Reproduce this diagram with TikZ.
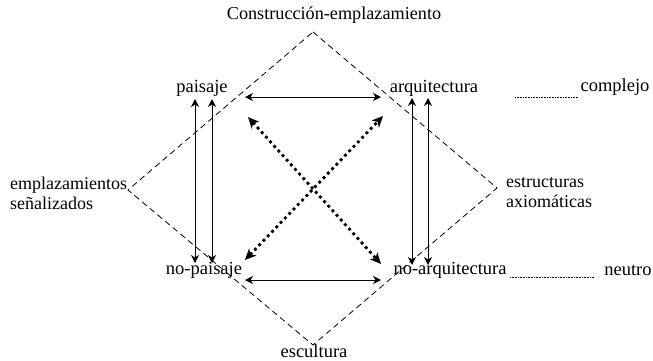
\documentclass[tikz,border=0pt]{standalone}
\usepackage{fontspec}
\setmainfont{Liberation Serif}
\usetikzlibrary{arrows.meta,positioning}

\begin{document}
\begin{tikzpicture}[
    x=1pt, y=-1pt,
    term/.style={inner sep=1pt, font=\fontsize{18.5}{21}\selectfont},
    title/.style={inner sep=1pt, font=\fontsize{18.2}{21}\selectfont},
    side/.style={inner sep=1pt, align=left, font=\fontsize{18}{20}\selectfont},
    frame/.style={line width=0.8pt, dash pattern=on 6pt off 4pt},
    arrow/.style={line width=0.9pt, <->, >={Stealth[length=8pt, width=8pt, inset=2.5pt]}},
    dotarrow/.style={line width=2.8pt, dash pattern=on 2.8pt off 3.4pt, <->, >={Stealth[length=11pt, width=10pt, inset=3pt]}},
    leader/.style={densely dotted, line width=0.6pt}
]
\useasboundingbox (0,0) rectangle (653,360);

% Diamond corners
\coordinate (top) at (313,32);
\coordinate (left) at (128,190);
\coordinate (right) at (497,188);
\coordinate (bottom) at (313,345);
\draw[frame] (top) -- (right) -- (bottom) -- (left) -- cycle;

% Corner labels
\node[title] (constr) at (334,15) {Construcción-emplazamiento};
\node[term, anchor=base, inner sep=0pt] (escult) at (314,357) {escultura};
\node[side, anchor=west] (senal) at (9,193) {emplazamientos\\señalizados};
\node[side, anchor=west] (axiom) at (505,193) {estructuras\\axiomáticas};

% Terms
\node[term] (paisaje) at (202,88) {paisaje};
\node[term] (arquit) at (434,88) {arquitectura};
\node[term] (nopaisaje) at (204,270) {no-paisaje};
\node[term] (noarquit) at (450,270) {no-arquitectura};
\node[term] (complejo) at (615,87) {complejo};
\node[term] (neutro) at (628,270) {neutro};

% Leaders
\coordinate (lead1a) at (515,97);
\coordinate (lead1b) at (578,97);
\coordinate (lead2a) at (510,277);
\coordinate (lead2b) at (594,277);
\draw[leader] (lead1a) -- (lead1b);
\draw[leader] (lead2a) -- (lead2b);

% Vertical arrows
\draw[arrow] ([xshift=-7pt,yshift=-11pt]paisaje.center) -- ([xshift=-9pt,yshift=7pt]nopaisaje.center);
\draw[arrow] ([xshift=10pt,yshift=-11pt]paisaje.center) -- ([xshift=8pt,yshift=7pt]nopaisaje.center);
\draw[arrow] ([xshift=-22pt,yshift=-10pt]arquit.center) -- ([xshift=-38pt,yshift=5pt]noarquit.center);
\draw[arrow] ([xshift=-6pt,yshift=-10pt]arquit.center) -- ([xshift=-22pt,yshift=5pt]noarquit.center);

% Horizontal arrows
\coordinate (h1a) at (245,97);
\coordinate (h1b) at (381,97);
\coordinate (h2a) at (245,280);
\coordinate (h2b) at (381,280);
\draw[arrow] (h1a) -- (h1b);
\draw[arrow] (h2a) -- (h2b);

% Diagonal arrows
\coordinate (d1a) at (248,117);
\coordinate (d1b) at (381,264);
\coordinate (d2a) at (245,260);
\coordinate (d2b) at (383,116);
\draw[dotarrow] (d1a) -- (d1b);
\draw[dotarrow] (d2a) -- (d2b);

\end{tikzpicture}
\end{document}
